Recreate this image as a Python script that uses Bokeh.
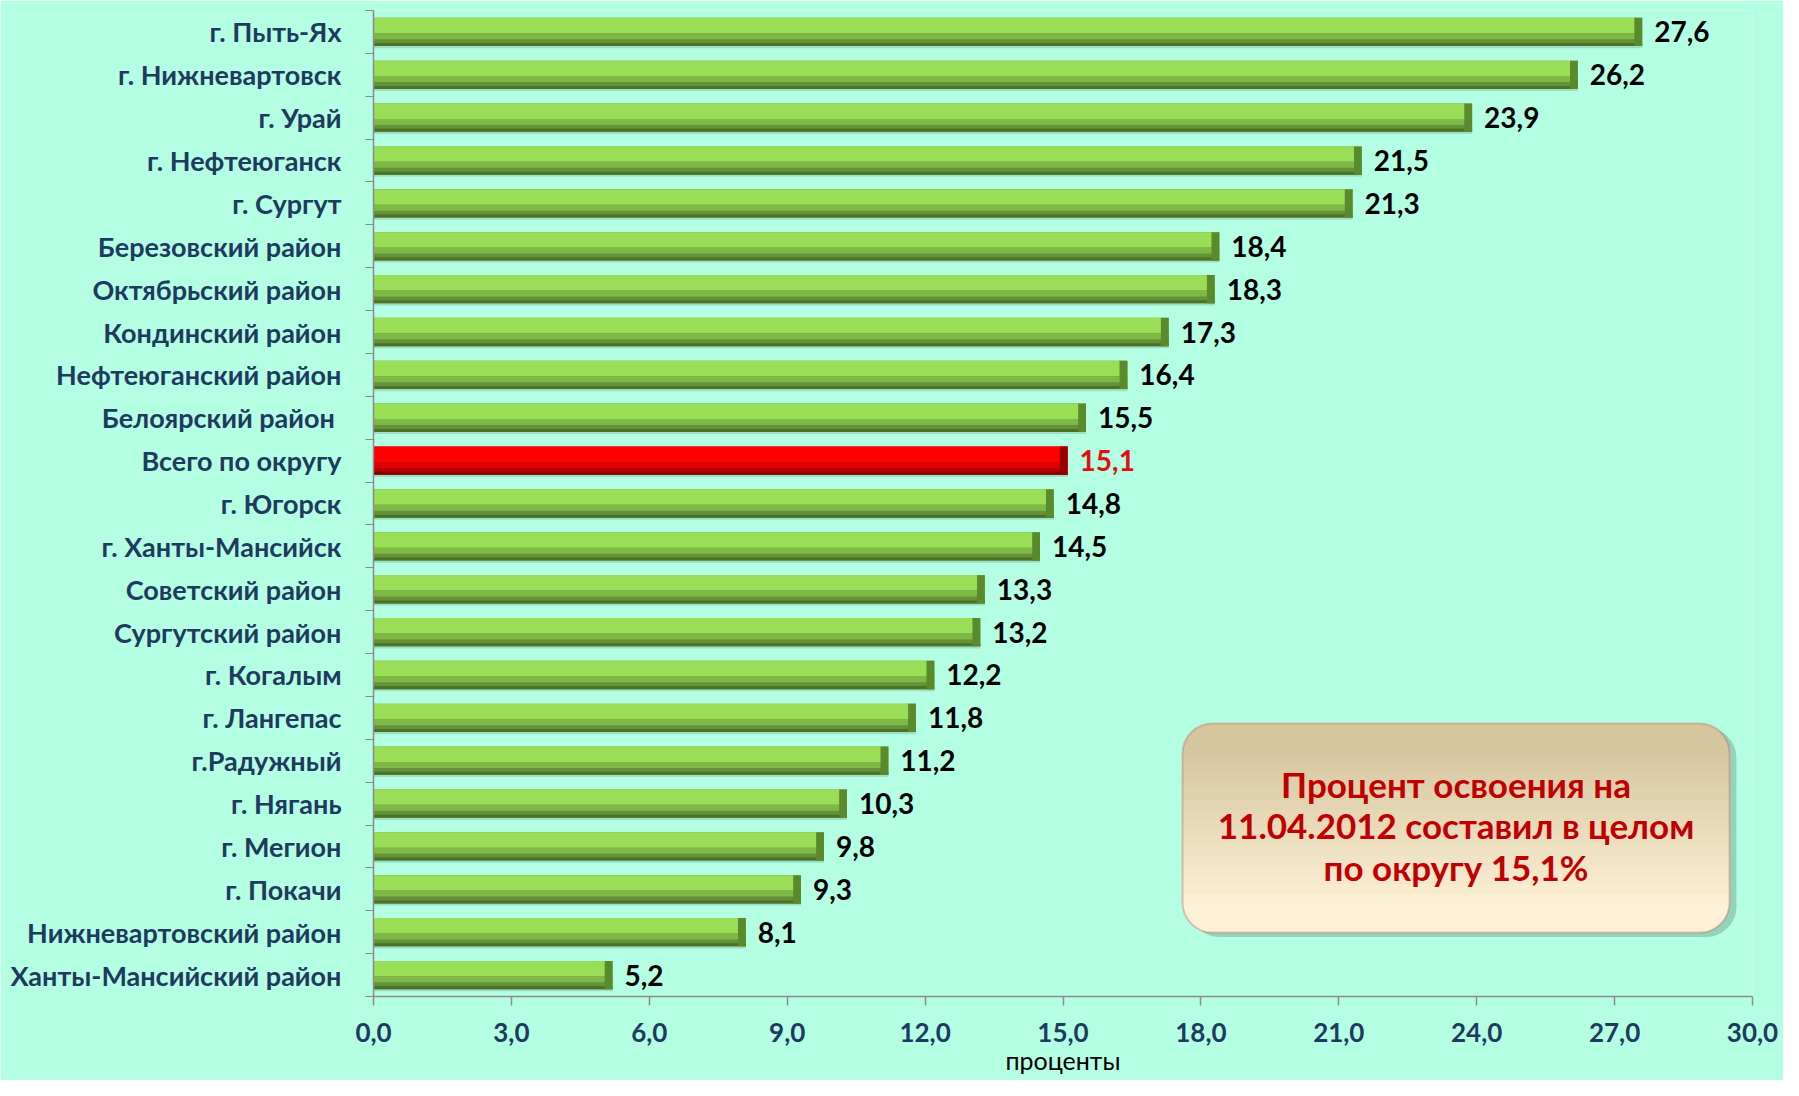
from bokeh.plotting import figure
from bokeh.models import ColumnDataSource, FixedTicker, BoxAnnotation, Label, LabelSet
from bokeh.transform import dodge
from bokeh.core.properties import value
from bokeh.embed import file_html
from bokeh.resources import INLINE

categories = ["г. Пыть-Ях", "г. Нижневартовск", "г. Урай", "г. Нефтеюганск", "г. Сургут",
              "Березовский район", "Октябрьский район", "Кондинский район",
              "Нефтеюганский район", "Белоярский  район", "Всего по округу", "г. Югорск",
              "г. Ханты-Мансийск", "Советский район", "Сургутский район", "г. Когалым",
              "г. Лангепас", "г.Радужный", "г. Нягань", "г. Мегион", "г. Покачи",
              "Нижневартовский район", "Ханты-Мансийский район"]
values = [27.6, 26.2, 23.9, 21.5, 21.3, 18.4, 18.3, 17.3, 16.4, 15.5, 15.1, 14.8,
          14.5, 13.3, 13.2, 12.2, 11.8, 11.2, 10.3, 9.8, 9.3, 8.1, 5.2]
x_ticks = [0, 3, 6, 9, 12, 15, 18, 21, 24, 27, 30]
x_tick_labels = ["0,0", "3,0", "6,0", "9,0", "12,0", "15,0", "18,0", "21,0", "24,0", "27,0", "30,0"]
highlight = "Всего по округу"
x_title = "проценты"
note_lines = ["Процент освоения на", "11.04.2012 составил в целом", "по округу 15,1%"]

FONT = "Lato"
BG = "#b4ffe3"
NAVY = "#1f3a5f"

n = len(categories)
ys = [n - 1 - i + 0.5 for i in range(n)]
is_hi = [c == highlight for c in categories]
src = ColumnDataSource(dict(
    y=ys, value=values, cat=categories,
    cap_left=[v - 0.17 for v in values],
    label=[f"{v:.1f}".replace(".", ",") for v in values],
    base=["#b20000" if h else "#63923a" for h in is_hi],
    light=["#ff0000" if h else "#9ade58" for h in is_hi],
    mid=["#dd0000" if h else "#80b846" for h in is_hi],
    dark=["#8a0000" if h else "#4a7326" for h in is_hi],
    cap=["#9a0000" if h else "#5a8a2c" for h in is_hi],
    lcolor=["#e01010" if h else "#000000" for h in is_hi],
))

p = figure(width=1783, height=1080, output_backend="svg", toolbar_location=None,
           x_range=(0, 30), y_range=(0, n),
           min_border_left=373, min_border_right=31, min_border_top=10, min_border_bottom=84)
p.background_fill_color = BG
p.border_fill_color = BG
p.outline_line_color = None
p.xgrid.grid_line_color = None
p.ygrid.grid_line_color = None

H = 0.66
p.hbar(y=dodge("y", -0.05), left=0, right="value", height=H, fill_color="#8cc9ae",
       fill_alpha=0.6, line_color=None, source=src)
p.hbar(y="y", left=0, right="value", height=H, fill_color="base", line_color=None, source=src)
p.hbar(y=dodge("y", 0.15), left=0, right="value", height=0.36, fill_color="light", line_color=None, source=src)
p.hbar(y=dodge("y", -0.10), left=0, right="value", height=0.14, fill_color="mid", line_color=None, source=src)
p.hbar(y=dodge("y", -0.295), left=0, right="value", height=0.07, fill_color="dark", line_color=None, source=src)
p.hbar(y="y", left="cap_left", right="value", height=H, fill_color="cap", line_color=None, source=src)

labels = LabelSet(x="value", y="y", text="label", x_offset=12, source=src,
                  text_baseline="middle", text_font=value(FONT), text_font_style="bold",
                  text_font_size="28px", text_color="lcolor")
p.add_layout(labels)

# y axis
ya = p.yaxis[0]
ya.ticker = FixedTicker(ticks=ys, minor_ticks=list(range(n + 1)))
ya.major_label_overrides = {y: c for y, c in zip(ys, categories)}
ya.major_tick_line_color = None
ya.major_tick_out = 0
ya.major_label_standoff = 24
ya.minor_tick_line_color = "#8c8c8c"
ya.minor_tick_out = 8
ya.minor_tick_in = 0
ya.axis_line_color = "#8c8c8c"
ya.axis_line_width = 1.5
ya.major_label_text_font = FONT
ya.major_label_text_font_style = "bold"
ya.major_label_text_font_size = "27px"
ya.major_label_text_color = NAVY

# x axis
xa = p.xaxis[0]
xa.ticker = FixedTicker(ticks=x_ticks)
xa.major_label_overrides = {t: l for t, l in zip(x_ticks, x_tick_labels)}
xa.major_tick_out = 9
xa.major_tick_in = 0
xa.minor_tick_line_color = None
xa.major_tick_line_color = "#8c8c8c"
xa.major_tick_line_width = 1.5
xa.axis_line_color = "#8c8c8c"
xa.axis_line_width = 1.5
xa.major_label_standoff = 17
xa.major_label_text_font = FONT
xa.major_label_text_font_style = "bold"
xa.major_label_text_font_size = "26px"
xa.major_label_text_color = NAVY
xa.axis_label = x_title
xa.axis_label_standoff = 0
xa.axis_label_text_font = FONT
xa.axis_label_text_font_style = "normal"
xa.axis_label_text_font_size = "25px"
xa.axis_label_text_color = "#000000"

# note box with a soft vertical gradient
L, R, T, B = 17.6, 29.5, 6.37, 1.49
p.add_layout(BoxAnnotation(left=L + 0.15, right=R + 0.15, top=T - 0.1, bottom=B - 0.1, border_radius=30,
                           fill_color="#86bfa6", fill_alpha=0.7, line_color=None))
top_c = (214, 198, 160)
bot_c = (252, 240, 214)
p.add_layout(BoxAnnotation(left=L, right=R, top=T, bottom=B, border_radius=30,
                           fill_color="#%02x%02x%02x" % top_c, fill_alpha=1.0, line_color=None))
band_top, band_bot = T - 0.7, B + 0.7
nb = 16
step = (band_top - band_bot) / nb
for i in range(nb):
    f = (i + 1) / (nb + 1)
    c = tuple(round(a + (b - a) * f) for a, b in zip(top_c, bot_c))
    p.add_layout(BoxAnnotation(left=L, right=R, top=band_top - i * step, bottom=band_top - (i + 1) * step - 0.01,
                               fill_color="#%02x%02x%02x" % c, fill_alpha=1.0, line_color=None))
p.add_layout(BoxAnnotation(left=L, right=R, top=band_bot, bottom=B, border_radius=(0, 0, 30, 30),
                           fill_color="#%02x%02x%02x" % bot_c, fill_alpha=1.0, line_color=None))
p.add_layout(BoxAnnotation(left=L, right=R, top=T, bottom=B, border_radius=30,
                           fill_alpha=0, line_color="#c0504d", line_width=2))
for line, yy in zip(note_lines, [4.96, 4.0, 3.02]):
    p.add_layout(Label(x=23.55, y=yy, text=line, text_align="center", text_baseline="middle",
                       text_font=FONT, text_font_style="bold", text_font_size="35px",
                       text_color="#c00000"))

open("out.html", "w").write(file_html(p, INLINE))
